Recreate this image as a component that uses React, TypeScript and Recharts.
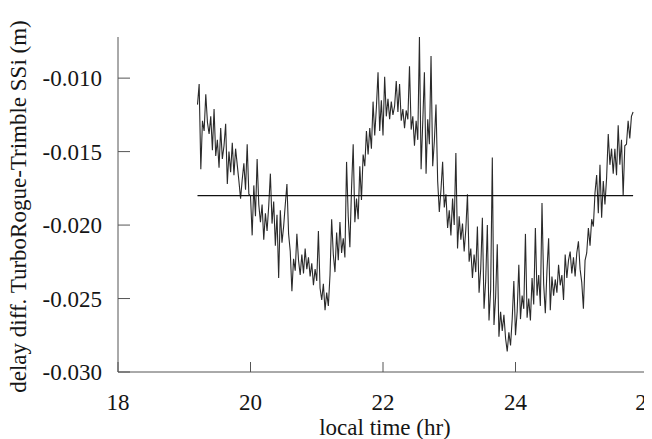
import React from "react";
import { LineChart, Line, XAxis, YAxis, ReferenceLine } from "recharts";

// Sampling of the recorded series (local time, hours)
const SAMPLE_START_HR = 19.2;
const SAMPLE_STEP_HR = 0.025;

// delay difference TurboRogue - Trimble SSi, in millimetres
const delayMm: number[] = [
  // 19.2 - 19.5
  -11.8, -10.4, -16.2, -12.9, -13.6, -11.1, -13.0, -13.8, -12.6, -14.9, -12.1, -15.3,
  // 19.5 - 20.0
  -14.2, -16.1, -13.4, -15.5, -14.6, -13.1, -17.2, -15.0, -16.4, -14.4,
  -16.6, -14.8, -15.9, -17.0, -18.2, -16.9, -15.8, -17.6, -14.5, -17.9,
  // 20.0 - 20.5
  -18.0, -20.7, -17.3, -19.4, -15.5, -18.6, -19.8, -18.6, -21.0, -19.2,
  -20.4, -18.7, -16.5, -19.9, -18.4, -21.4, -19.3, -23.6, -19.0, -21.2,
  // 20.5 - 21.0
  -20.1, -18.6, -17.2, -20.6, -21.8, -24.5, -22.3, -23.1, -20.6, -22.4,
  -23.4, -22.0, -23.3, -21.6, -23.0, -22.2, -23.5, -22.6, -24.1, -23.0,
  // 21.0 - 21.5
  -23.8, -20.4, -24.3, -25.1, -24.0, -25.8, -24.6, -25.5, -23.4, -19.6,
  -22.0, -23.2, -20.5, -22.4, -19.8, -21.9, -20.9, -22.2, -15.7, -19.4,
  // 21.5 - 22.0
  -21.5, -17.5, -14.5, -19.8, -18.2, -19.6, -16.0, -18.3, -15.2, -16.0,
  -13.6, -15.2, -13.4, -14.8, -11.6, -13.9, -12.0, -9.6, -13.6, -11.5,
  // 22.0 - 22.5
  -13.9, -9.9, -12.6, -11.4, -12.8, -11.6, -12.5, -11.9, -10.2, -12.3,
  -10.4, -12.9, -12.1, -13.4, -12.2, -12.8, -9.2, -13.5, -12.6, -14.6,
  // 22.5 - 23.0
  -12.9, -14.2, -7.2, -16.2, -13.0, -9.6, -16.5, -12.8, -14.5, -8.5,
  -16.0, -14.3, -11.8, -17.0, -19.1, -17.6, -15.7, -18.8, -17.9, -20.2,
  // 23.0 - 23.5
  -19.0, -20.7, -18.2, -20.0, -15.1, -21.6, -19.4, -21.0, -19.9, -21.8,
  -20.3, -17.9, -22.5, -21.6, -23.6, -22.0, -23.2, -20.1, -24.6, -23.0,
  // 23.5 - 24.0
  -19.5, -25.7, -23.8, -20.0, -26.5, -24.4, -15.4, -26.8, -24.9, -21.3,
  -27.6, -25.9, -27.2, -26.1, -27.7, -28.6, -27.3, -28.2, -26.4, -23.8,
  // 24.0 - 24.5
  -27.5, -25.9, -22.7, -26.4, -24.8, -25.7, -20.6, -26.3, -25.0, -26.5,
  -23.6, -25.4, -20.2, -24.8, -23.4, -25.5, -18.5, -24.0, -26.0, -23.1,
  // 24.5 - 25.0
  -20.9, -25.8, -23.5, -24.8, -23.7, -24.6, -22.7, -24.1, -23.4, -25.1,
  -22.0, -23.6, -22.4, -21.8, -23.3, -22.2, -23.5, -21.9, -21.1, -23.0,
  // 25.0 - 25.5
  -23.9, -25.7, -22.4, -21.9, -20.2, -21.4, -19.6, -20.1, -17.8, -16.6,
  -19.2, -15.9, -19.5, -17.0, -18.6, -16.8, -13.8, -15.9, -14.8, -16.5,
  // 25.5 - 25.775
  -14.8, -16.6, -13.2, -15.9, -14.2, -18.0, -14.6, -14.5, -12.9, -14.1, -12.6, -12.3,
];

// mean level drawn as a horizontal line
const MEAN_LEVEL_M = -0.018;
const MEAN_START_HR = 19.2;
const MEAN_END_HR = 25.775;

const xTicks = [18, 20, 22, 24, 26];
const xTickLabels: Record<number, string> = { 18: "18", 20: "20", 22: "22", 24: "24", 26: "2" };
const yTicks = [-0.03, -0.025, -0.02, -0.015, -0.01];

const X_LABEL = "local time (hr)";
const Y_LABEL = "delay diff. TurboRogue-Trimble SSi (m)";

const data = delayMm.map((v, i) => ({
  t: SAMPLE_START_HR + i * SAMPLE_STEP_HR,
  delay: v / 1000,
}));

const FONT = "Liberation Serif, Tinos, Times New Roman, DejaVu Serif, Noto Serif, serif";
const TEXT = "#151515";
const AXIS = "#555";

const XTick = (props: any) => {
  const { x, y, payload } = props;
  const isLast = payload.value === 26;
  return (
    <g>
      <line x1={x} x2={x} y1={y - 22} y2={y - 32} stroke={AXIS} strokeWidth={1} />
      <text
        x={x + (isLast ? -7 : 0)}
        y={y}
        dy="0.71em"
        textAnchor="middle"
        style={{ fontFamily: FONT, fontSize: 23 }}
        fill={TEXT}
      >
        {xTickLabels[payload.value] ?? String(payload.value)}
      </text>
    </g>
  );
};

const YTick = (props: any) => {
  const { x, y, payload } = props;
  return (
    <g>
      <line x1={x + 16} x2={x + 28} y1={y} y2={y} stroke={AXIS} strokeWidth={1} />
      <text
        x={x}
        y={y}
        dy="0.35em"
        textAnchor="end"
        style={{ fontFamily: FONT, fontSize: 23 }}
        fill={TEXT}
      >
        {Number(payload.value).toFixed(3)}
      </text>
    </g>
  );
};

const YLabel = (props: any) => {
  const vb = props.viewBox || { x: 0, y: 0, width: 0, height: 0 };
  const cx = vb.x + 18;
  const cy = vb.y + vb.height / 2 + 2;
  return (
    <text
      x={cx}
      y={cy}
      dy="0.35em"
      textAnchor="middle"
      transform={`rotate(-90, ${cx}, ${cy})`}
      style={{ fontFamily: FONT, fontSize: 23 }}
      fill={TEXT}
    >
      {Y_LABEL}
    </text>
  );
};

const XLabel = (props: any) => {
  const vb = props.viewBox || { x: 0, y: 0, width: 0, height: 0 };
  const cx = vb.x + vb.width / 2 + 2;
  const baseline = vb.y + vb.height + 23;
  return (
    <text x={cx} y={baseline} textAnchor="middle" style={{ fontFamily: FONT, fontSize: 23 }} fill={TEXT}>
      {X_LABEL}
    </text>
  );
};

export default function App() {
  return (
    <div style={{ width: 652, height: 439, margin: "-8px 0 0 -8px", background: "#fff", fontFamily: FONT }}>
      <LineChart
        width={652}
        height={439}
        data={data}
        margin={{ top: 37, right: 4, bottom: 27, left: 0 }}
        style={{ fontFamily: FONT }}
      >
        <XAxis
          dataKey="t"
          type="number"
          domain={[18, 26]}
          ticks={xTicks}
          tickSize={0}
          tickMargin={22}
          tickLine={false}
          height={40}
          stroke={AXIS}
          tick={<XTick />}
          interval={0}
          label={<XLabel />}
        />
        <YAxis
          type="number"
          domain={[-0.03, -0.0072]}
          ticks={yTicks}
          tickSize={0}
          tickMargin={16}
          tickLine={false}
          width={118}
          stroke={AXIS}
          tick={<YTick />}
          interval={0}
          label={<YLabel />}
        />
        <Line
          dataKey="delay"
          type="linear"
          stroke="#2a2a2a"
          strokeWidth={1.1}
          dot={false}
          isAnimationActive={false}
        />
        <ReferenceLine
          segment={[
            { x: MEAN_START_HR, y: MEAN_LEVEL_M },
            { x: MEAN_END_HR, y: MEAN_LEVEL_M },
          ]}
          stroke="#111"
          strokeWidth={1.2}
          ifOverflow="visible"
        />
      </LineChart>
    </div>
  );
}
